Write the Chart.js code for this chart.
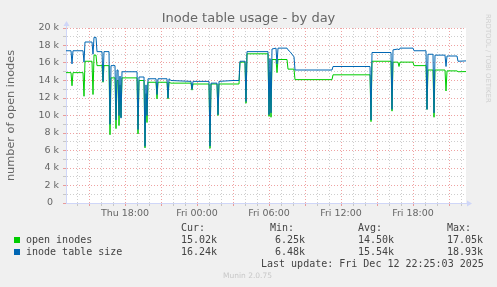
<!DOCTYPE html>
<html>
<head>
<meta charset="utf-8">
<script src="https://cdn.jsdelivr.net/npm/chart.js@4/dist/chart.umd.min.js"></script>
<style>
  html, body { margin: 0; padding: 0; background: #F0F0F0; }
  #wrap { position: relative; width: 497px; height: 287px; overflow: hidden; }
  canvas { position: absolute; left: 0; top: 0; }
  .txt { position: absolute; white-space: pre; }
  .title { font-family: "DejaVu Sans", sans-serif; font-size: 13px; color: #666; left: 0; width: 497px; text-align: center; top: 10px; line-height: 16px; }
  .side { font-family: "DejaVu Sans", sans-serif; font-size: 6.9px; color: #d0d0d0; writing-mode: vertical-rl; left: 484px; top: 14px; line-height: 8px; }
  .mono { font-family: "DejaVu Sans Mono", monospace; font-size: 10px; line-height: 12px; color: #444; }
  .sq { position: absolute; width: 6px; height: 6px; }
  .munin { font-family: "DejaVu Sans", sans-serif; font-size: 7.5px; color: #c8c8c8; left: 0; width: 495px; text-align: center; top: 271px; line-height: 10px; }
</style>
</head>
<body>
<div id="wrap">
  <canvas id="c" width="497" height="287"></canvas>
</div>
<script>
// ---- data (times: minutes since Thu 00:00) ----
const times = [
  785, 810, 815, 820, 870, 875, 880, 915, 920, 925, 935, 940, 965, 970, 975,
  1000, 1005, 1010, 1030, 1035, 1040, 1045, 1050, 1055, 1060, 1065,
  1140, 1145, 1150, 1175, 1180, 1185, 1190, 1195, 1235, 1240, 1245,
  1290, 1295, 1300, 1310, 1410, 1415, 1420, 1500, 1505, 1510, 1540, 1545, 1550,
  1620, 1650, 1655, 1680, 1685, 1690, 1795, 1800, 1805, 1810, 1815,
  1835, 1840, 1845, 1890, 1895, 1905, 1925, 1930, 2115, 2120, 2305, 2310, 2315,
  2410, 2415, 2420, 2445, 2450, 2455, 2520, 2525, 2585, 2590, 2595,
  2620, 2625, 2630, 2680, 2685, 2690, 2740, 2745, 2785
];
const inodeTableSize = [
  17400, 17400, 15900, 17400, 17400, 16100, 18400, 18400, 17000, 18930, 18930, 17300, 17300, 13900, 17300,
  17300, 9000, 15700, 15700, 9500, 15200, 15200, 10000, 14500, 9700, 15000,
  15000, 8400, 14400, 14400, 6480, 13500, 10000, 14200, 14200, 12400, 14200,
  14200, 12000, 14200, 14000, 13900, 13000, 13900, 13900, 6500, 13700, 13700, 10100, 13900,
  14000, 14000, 16200, 16200, 11600, 17300, 17300, 10100, 16500, 10300, 17600,
  17700, 15900, 17700, 17700, 17500, 17300, 16700, 15200, 15200, 15600, 15600, 9500, 17200,
  17200, 10700, 17500, 17600, 17500, 17700, 17700, 17400, 17400, 10700, 17000,
  17000, 10300, 16900, 16900, 15600, 16800, 16800, 16200, 16240
];
const openInodes = [
  14900, 14900, 13400, 14900, 14900, 12200, 16200, 16200, 12400, 16900, 16900, 15700, 15700, 13800, 15700,
  15700, 7800, 14300, 14300, 8500, 14000, 14000, 8850, 13500, 9800, 14300,
  14300, 7900, 14000, 14000, 6300, 12500, 9200, 13800, 13800, 11900, 13800,
  13800, 11900, 13800, 13700, 13700, 12900, 13600, 13600, 6250, 13600, 13600, 10000, 13600,
  13600, 13600, 16100, 16100, 11400, 17050, 17050, 9900, 15000, 9800, 16400,
  16400, 14900, 16400, 16400, 15300, 15300, 15300, 14100, 14100, 14650, 14650, 9300, 16200,
  16200, 10500, 16100, 16100, 15600, 16100, 16100, 15700, 15700, 10700, 15200,
  15200, 9800, 15200, 15200, 12800, 15100, 15100, 15000, 15020
];
const xMin = 785, xMax = 2785;
const hourTicks = [];
for (let m = 840; m <= 2760; m += 60) hourTicks.push(m);
const xLabelMinutes = [1080, 1440, 1800, 2160, 2520];
const xLabels = ['Thu 18:00', 'Fri 00:00', 'Fri 06:00', 'Fri 12:00', 'Fri 18:00'];
const yTicks = [];
for (let v = 0; v <= 20000; v += 1000) yTicks.push(v);

const seriesNames = ['open inodes', 'inode table size'];
const seriesColors = ['#00CC00', '#0066B3'];
const statCur = ['15.02k', '16.24k'];
const statMin = ['6.25k', '6.48k'];
const statAvg = ['14.50k', '15.54k'];
const statMax = ['17.05k', '18.93k'];
const lastUpdate = 'Last update: Fri Dec 12 22:25:03 2025';

// ---- chart ----
const MAJ = 'rgba(225,85,85,0.55)';
const MIN = 'rgba(165,165,165,0.55)';
const AXIS = '#CFD6F8';

const pts = arr => times.map((t, i) => ({x: t, y: arr[i]}));

const bgPlugin = {
  id: 'bg',
  beforeDraw(chart) {
    const {ctx, chartArea: a} = chart;
    ctx.save();
    ctx.fillStyle = '#FFFFFF';
    ctx.fillRect(a.left, a.top, a.right - a.left, a.bottom - a.top);
    ctx.restore();
  },
  afterDraw(chart) {
    const {ctx, chartArea: a} = chart;
    ctx.save();
    ctx.fillStyle = AXIS;
    ctx.strokeStyle = AXIS;
    ctx.lineWidth = 1;
    const lx = Math.round(a.left) + 0.5, by = Math.round(a.bottom) + 0.5;
    ctx.beginPath(); ctx.moveTo(lx, a.top); ctx.lineTo(lx, a.top - 3); ctx.stroke();
    ctx.beginPath(); ctx.moveTo(lx - 3, a.top - 2); ctx.lineTo(lx + 3, a.top - 2); ctx.lineTo(lx, a.top - 7); ctx.closePath(); ctx.fill();
    ctx.beginPath(); ctx.moveTo(a.right, by); ctx.lineTo(a.right + 2, by); ctx.stroke();
    ctx.beginPath(); ctx.moveTo(a.right + 1, by - 3); ctx.lineTo(a.right + 1, by + 3); ctx.lineTo(a.right + 6, by); ctx.closePath(); ctx.fill();
    ctx.restore();
  }
};

new Chart(document.getElementById('c'), {
  type: 'line',
  data: {
    datasets: [
      { label: seriesNames[0], data: pts(openInodes), borderColor: seriesColors[0], borderWidth: 1, pointRadius: 0, tension: 0, fill: false, order: 1 },
      { label: seriesNames[1], data: pts(inodeTableSize), borderColor: seriesColors[1], borderWidth: 1, pointRadius: 0, tension: 0, fill: false, order: 0 }
    ]
  },
  options: {
    responsive: false,
    animation: false,
    events: [],
    layout: { padding: { left: 0, top: 28, right: 31, bottom: 62 } },
    plugins: { legend: { display: false }, tooltip: { enabled: false }, title: { display: false } },
    scales: {
      x: {
        type: 'linear', min: xMin, max: xMax,
        afterBuildTicks: s => { s.ticks = hourTicks.map(v => ({value: v})); },
        afterFit: s => { s.height = 22; },
        ticks: {
          autoSkip: false, maxRotation: 0, minRotation: 0, padding: 2,
          color: '#666', font: { family: 'DejaVu Sans', size: 9.5 },
          callback: v => { const i = xLabelMinutes.indexOf(v); return i >= 0 ? xLabels[i] : ''; }
        },
        grid: {
          color: c => (c.tick && c.tick.value % 180 === 0) ? MAJ : MIN,
          tickColor: c => (c.tick && c.tick.value % 180 === 0) ? MAJ : MIN,
          tickLength: 3, lineWidth: 1
        },
        border: { color: AXIS, width: 1, dash: [1, 2] }
      },
      y: {
        type: 'linear', min: 0, max: 20000,
        afterBuildTicks: s => { s.ticks = yTicks.map(v => ({value: v})); },
        afterFit: s => { s.width = 66; },
        ticks: {
          autoSkip: false, padding: 4,
          color: '#666', font: { family: 'DejaVu Sans', size: 9.5 },
          callback: v => v % 2000 !== 0 ? '' : (v === 0 ? '0  ' : (v / 1000) + ' k')
        },
        grid: {
          color: c => (c.tick && c.tick.value % 2000 === 0) ? MAJ : MIN,
          tickColor: c => (c.tick && c.tick.value % 2000 === 0) ? MAJ : MIN,
          tickLength: 3, lineWidth: 1
        },
        border: { color: AXIS, width: 1, dash: [1, 2] },
        title: {
          display: true, text: 'number of open inodes', color: '#666',
          font: { family: 'DejaVu Sans', size: 11.3 }, padding: { top: 4, bottom: 0 }
        }
      }
    }
  },
  plugins: [bgPlugin]
});

// ---- texts and legend ----
const wrap = document.getElementById('wrap');
function addText(cls, text, left, top) {
  const d = document.createElement('div');
  d.className = 'txt ' + cls;
  d.textContent = text;
  if (left !== null) d.style.left = left + 'px';
  if (top !== null) d.style.top = top + 'px';
  wrap.appendChild(d);
  return d;
}
addText('title', 'Inode table usage - by day', null, null);
addText('side', 'RRDTOOL / TOBI OETIKER', null, null);
addText('munin', 'Munin 2.0.75', null, null);

const headTop = 221.5, rowTop = [233.5, 245.5], lastTop = 257.5;
addText('mono', 'Cur:', 181, headTop);
addText('mono', 'Min:', 270, headTop);
addText('mono', 'Avg:', 358, headTop);
addText('mono', 'Max:', 447, headTop);
for (let i = 0; i < 2; i++) {
  const sq = document.createElement('div');
  sq.className = 'sq';
  sq.style.left = '14px';
  sq.style.top = (rowTop[i] + 3.5) + 'px';
  sq.style.background = seriesColors[i];
  wrap.appendChild(sq);
  addText('mono', seriesNames[i], 26, rowTop[i]);
  addText('mono', statCur[i], 181, rowTop[i]);
  addText('mono', statMin[i], 305 - statMin[i].length * 6, rowTop[i]);
  addText('mono', statAvg[i], 358, rowTop[i]);
  addText('mono', statMax[i], 447, rowTop[i]);
}
addText('mono', lastUpdate, 261, lastTop);
</script>
</body>
</html>
